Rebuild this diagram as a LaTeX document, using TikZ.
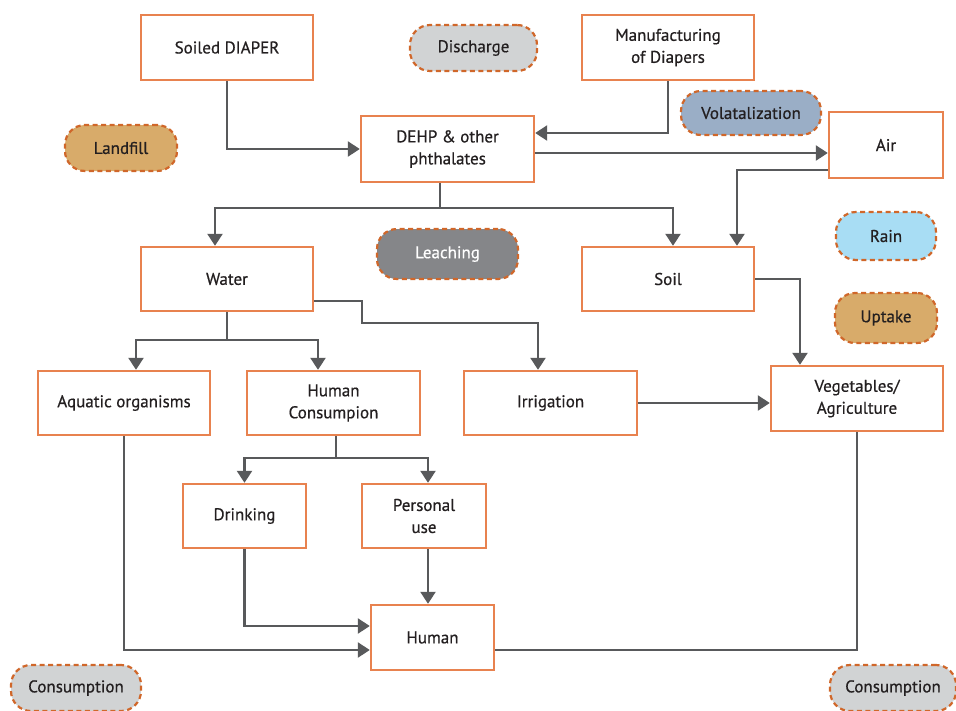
\documentclass[tikz,border=0pt]{standalone}
\usepackage{fontspec}
\setmainfont{PT Sans}[UprightFeatures={FakeBold=0.6}]
\usetikzlibrary{arrows.meta}
\definecolor{boxor}{HTML}{E8824F}
\definecolor{dashor}{HTML}{D0672A}
\definecolor{lineg}{HTML}{58595B}
\definecolor{txt}{HTML}{231F20}
\definecolor{pgrey}{HTML}{D1D3D4}
\definecolor{ptan}{HTML}{D8AB6A}
\definecolor{pblue}{HTML}{9AAEC6}
\definecolor{pdark}{HTML}{858689}
\definecolor{prain}{HTML}{A8DDF4}
\tikzset{
  box/.style={draw=boxor, line width=2.4pt, fill=white, text=txt, align=center,
    inner sep=0pt, font=\fontsize{17}{22}\selectfont},
  pill/.style={draw=dashor, line width=2.2pt, dash pattern=on 5pt off 3.5pt,
    rounded corners=20pt, text=txt, inner sep=0pt, align=center,
    font=\fontsize{17}{22}\selectfont},
  conn/.style={draw=lineg, line width=2.4pt},
  arr/.style={conn, -{Triangle[length=12pt,width=15pt]}},
}
\begin{document}
\begin{tikzpicture}[x=1pt,y=-1pt]
\useasboundingbox (0,0) rectangle (956,710);
% boxes
\node[box, minimum width=172pt, minimum height=65pt] (soiled) at (227,47.5) {Soiled DIAPER};
\node[box, minimum width=172pt, minimum height=65pt] (manu) at (668,47.5) {Manufacturing\\of Diapers};
\node[box, minimum width=173pt, minimum height=66pt] (dehp) at (447.5,149) {DEHP \& other\\phthalates};
\node[box, minimum width=114pt, minimum height=66pt] (air) at (886,145) {Air};
\node[box, minimum width=172pt, minimum height=64pt] (water) at (227,279) {Water};
\node[box, minimum width=172pt, minimum height=64pt] (soil) at (668,279) {Soil};
\node[box, minimum width=172pt, minimum height=64pt] (aquatic) at (124,403) {Aquatic organisms};
\node[box, minimum width=173pt, minimum height=64pt] (humcons) at (333.5,403) {Human\\Consumpion};
\node[box, minimum width=173pt, minimum height=64pt] (irrig) at (550.5,403) {Irrigation};
\node[box, minimum width=172pt, minimum height=65pt] (veg) at (857,398.5) {Vegetables/\\Agriculture};
\node[box, minimum width=123pt, minimum height=64pt] (drink) at (244.5,516) {Drinking};
\node[box, minimum width=124pt, minimum height=64pt] (pers) at (424,516) {Personal\\use};
\node[box, minimum width=123pt, minimum height=65pt] (human) at (432.5,637.5) {Human};
% pills
\node[pill, fill=pgrey, minimum width=127pt, minimum height=46pt] (disch) at (473.5,48) {Discharge};
\node[pill, fill=ptan, minimum width=112pt, minimum height=46pt] (landfill) at (121,148) {Landfill};
\node[pill, fill=pblue, minimum width=140pt, minimum height=44pt] (vola) at (751,113) {Volatalization};
\node[pill, fill=prain, minimum width=100pt, minimum height=48pt] (rain) at (886,236) {Rain};
\node[pill, fill=pdark, text=white, minimum width=141pt, minimum height=50pt] (leach) at (447.5,254) {Leaching};
\node[pill, fill=ptan, minimum width=102pt, minimum height=50pt] (uptake) at (886,318) {Uptake};
\node[pill, fill=pgrey, minimum width=130pt, minimum height=46pt] (consl) at (76,688) {Consumption};
\node[pill, fill=pgrey, minimum width=126pt, minimum height=46pt] (consr) at (893,688) {Consumption};
% connectors
\draw[arr] (soiled.south) |- (dehp.west);
\draw[arr] (manu.south) |- ([yshift=16pt]dehp.east);
\draw[arr] ([yshift=-4pt]dehp.east) -- ([yshift=-8pt]air.west);
\draw[arr] ([yshift=-25pt]air.west) -| ([xshift=69pt]soil.north);
\coordinate (dsplit) at (440,208);
\draw[conn] ([xshift=-7.5pt]dehp.south) -- (dsplit);
\draw[arr] (dsplit) -| ([xshift=-12pt]water.north);
\draw[arr] (dsplit) -| ([xshift=5pt]soil.north);
\coordinate (wsplit) at (227,340);
\draw[conn] (water.south) -- (wsplit);
\draw[arr] (wsplit) -| ([xshift=12pt]aquatic.north);
\draw[arr] (wsplit) -| ([xshift=-15.5pt]humcons.north);
\coordinate (wbend) at (362,323);
\draw[arr] ([yshift=-22pt]water.east) -| (wbend) -| ([xshift=-12.5pt]irrig.north);
\draw[arr] (soil.east) -| ([xshift=-57pt]veg.north);
\draw[arr] (irrig.east) -- ([yshift=-4.5pt]veg.west);
\coordinate (hsplit) at (336,458);
\draw[conn] ([xshift=2.5pt]humcons.south) -- (hsplit);
\draw[arr] (hsplit) -| (drink.north);
\draw[arr] (hsplit) -| ([xshift=4pt]pers.north);
\draw[arr] (drink.south) |- ([yshift=11.5pt]human.west);
\draw[arr] ([xshift=4pt]pers.south) -- ([xshift=-4.5pt]human.north);
\draw[arr] (aquatic.south) |- ([yshift=-12.5pt]human.west);
\draw[conn] (veg.south) |- ([yshift=-12.5pt]human.east);
\end{tikzpicture}
\end{document}
